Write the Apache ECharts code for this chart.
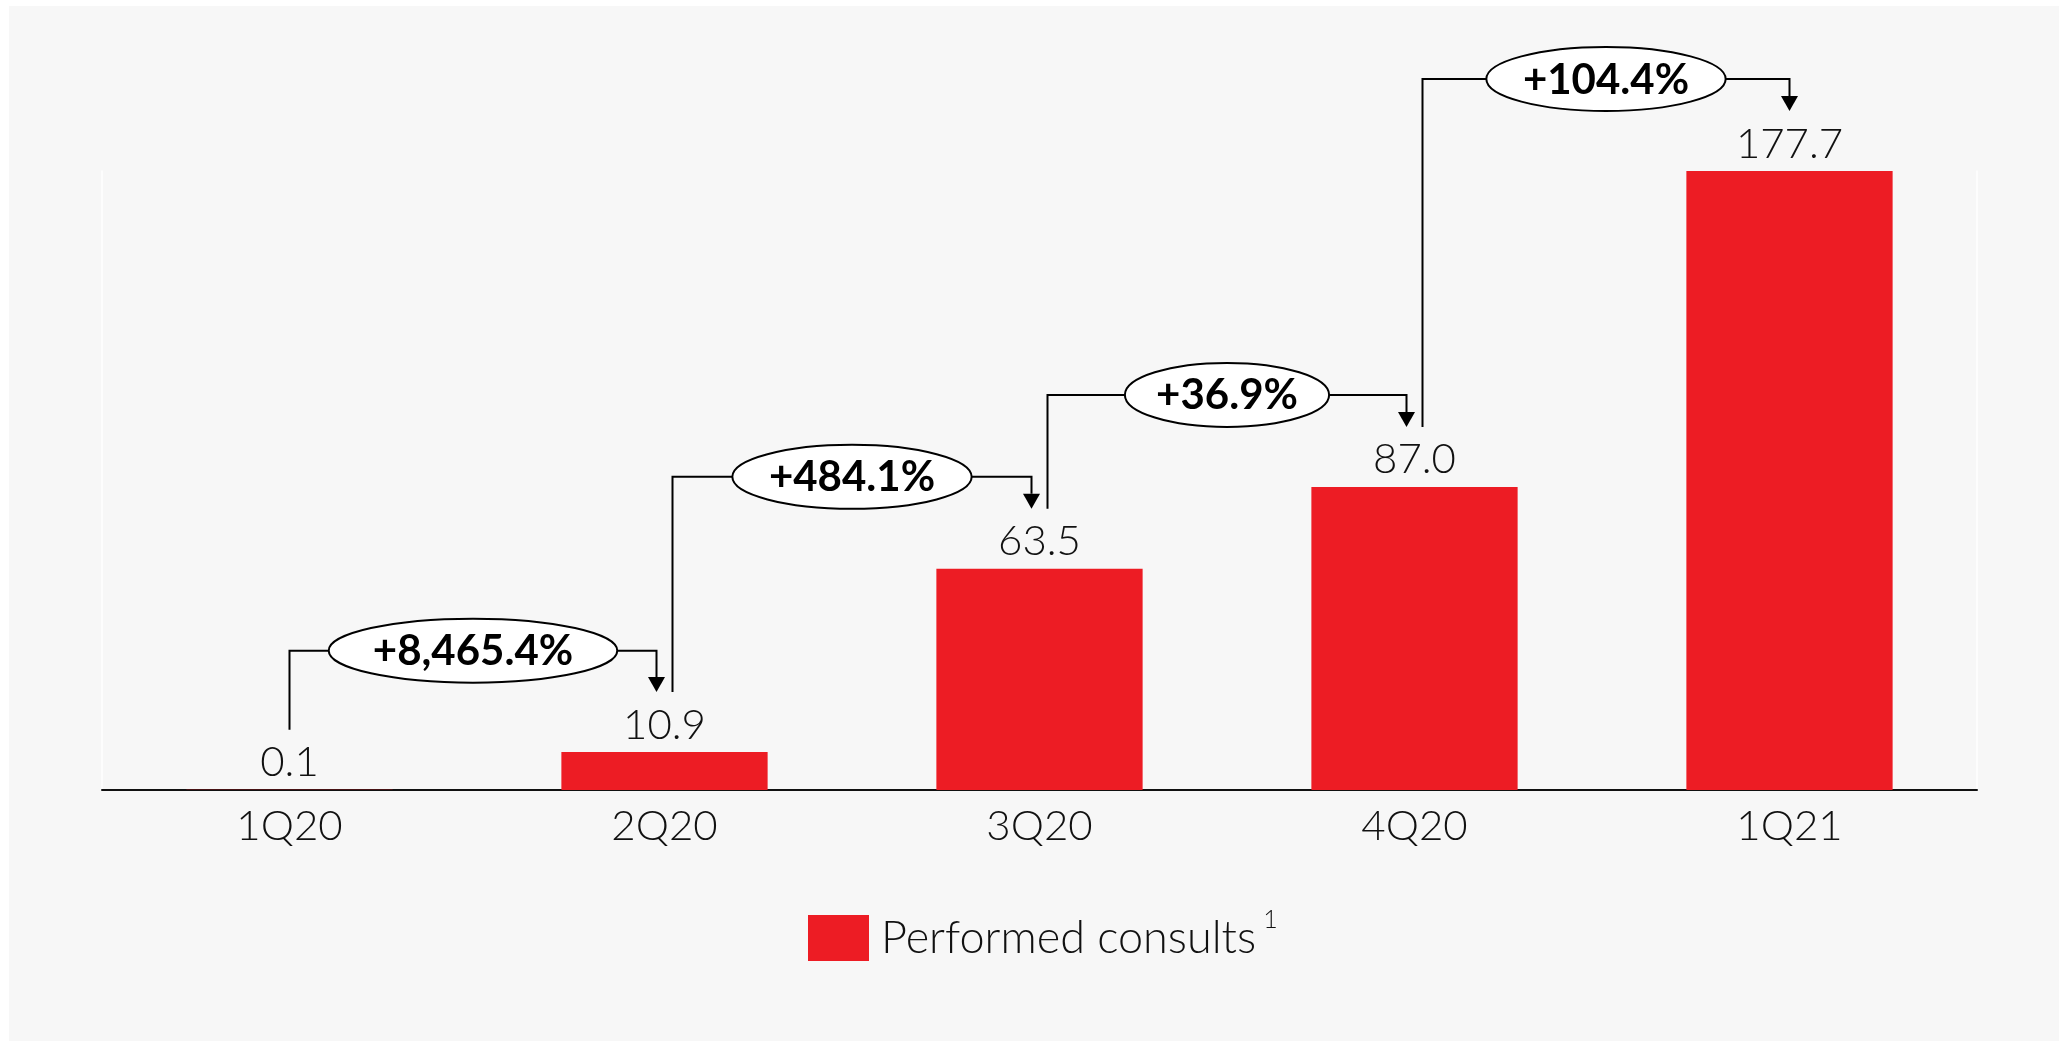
<!DOCTYPE html>
<html>
<head>
<meta charset="utf-8">
<script src="https://cdn.jsdelivr.net/npm/echarts@6/dist/echarts.min.js"></script>
<style>
  html, body { margin: 0; padding: 0; background: #ffffff; }
  #panel { position: absolute; left: 9px; top: 6px; width: 2050px; height: 1035px; background: #f7f7f7; }
  #chart { position: absolute; left: 0; top: 0; width: 2059px; height: 1041px; }
</style>
</head>
<body>
<div id="panel"></div>
<div id="chart"></div>
<script>
// ---- data ----
const categories = ['1Q20', '2Q20', '3Q20', '4Q20', '1Q21'];
const consults = [0.1, 10.9, 63.5, 87.0, 177.7];
const growthLabels = ['+8,465.4%', '+484.1%', '+36.9%', '+104.4%'];
const seriesName = 'Performed consults';
const footnoteMark = '1';

// ---- styles ----
const RED = '#ED1C24';
const LIGHT_FONT = 'Lato';
const chart = echarts.init(document.getElementById('chart'), null, { renderer: 'canvas' });

const option = {
  backgroundColor: 'transparent',
  animation: false,
  grid: { left: 102, right: 82, top: 171, bottom: 251 },
  legend: {
    data: [seriesName],
    left: 808,
    top: 907,
    padding: 0,
    icon: 'rect',
    itemWidth: 61,
    itemHeight: 46,
    selectedMode: false,
    formatter: (name) => `{t|${name}}{s|${footnoteMark}}`,
    textStyle: {
      rich: {
        t: { fontFamily: LIGHT_FONT, fontWeight: 300, fontSize: 45, color: '#111', padding: [0, 0, 0, 7], lineHeight: 62 },
        s: { fontFamily: LIGHT_FONT, fontWeight: 300, fontSize: 25, color: '#111', verticalAlign: 'top', padding: [0, 0, 0, 7] }
      }
    }
  },
  xAxis: {
    type: 'category',
    data: categories,
    axisLine: { lineStyle: { color: '#111', width: 2 } },
    axisTick: { show: false },
    axisLabel: { fontFamily: LIGHT_FONT, fontWeight: 300, fontSize: 42, color: '#111', margin: 15 }
  },
  yAxis: [
    {
      type: 'value', min: 0, max: 'dataMax', position: 'left',
      axisLine: { show: true, lineStyle: { color: '#ffffff', width: 1.5 } },
      axisTick: { show: false }, axisLabel: { show: false }, splitLine: { show: false }
    },
    {
      type: 'value', min: 0, max: 'dataMax', position: 'right',
      axisLine: { show: true, lineStyle: { color: '#ffffff', width: 1.5 } },
      axisTick: { show: false }, axisLabel: { show: false }, splitLine: { show: false }
    }
  ],
  series: [
    {
      name: seriesName,
      type: 'bar',
      data: consults,
      barCategoryGap: '45%',
      itemStyle: { color: RED },
      label: {
        show: true,
        position: 'top',
        distance: 6,
        formatter: (p) => p.value.toFixed(1),
        fontFamily: LIGHT_FONT, fontWeight: 300, fontSize: 42, color: '#111'
      }
    }
  ]
};
chart.setOption(option);

// ---- growth annotations (positioned from the bars via the axes) ----
function measure(text, font) {
  const c = document.createElement('canvas').getContext('2d');
  c.font = font;
  return c.measureText(text).width;
}
const BOLD_SIZE = 42;
const boldFont = `bold ${BOLD_SIZE}px Lato, "Liberation Sans", sans-serif`;
const elements = [];
const n = categories.length;
for (let i = 0; i < n - 1; i++) {
  const from = chart.convertToPixel({ seriesIndex: 0 }, [i, consults[i]]);
  const to = chart.convertToPixel({ seriesIndex: 0 }, [i + 1, consults[i + 1]]);
  const sx = from[0] + (i > 0 ? 8 : 0);
  const sBottom = from[1] - 60;
  const ax = to[0] - (i + 1 < n - 1 ? 8 : 0);
  const tip = to[1] - 60;
  const hy = Math.min(to[1] - 92, sBottom - 79);
  const cx = (sx + ax) / 2;
  const tw = measure(growthLabels[i], boldFont);
  const rx = tw * 0.72;
  const ry = 32;
  const line = { stroke: '#000', lineWidth: 2, fill: null };
  elements.push({ type: 'polyline', shape: { points: [[sx, sBottom], [sx, hy], [cx - rx, hy]] }, style: line, z: 10 });
  elements.push({ type: 'polyline', shape: { points: [[cx + rx, hy], [ax, hy], [ax, tip - 15]] }, style: line, z: 10 });
  elements.push({ type: 'polygon', shape: { points: [[ax - 8.5, tip - 15], [ax + 8.5, tip - 15], [ax, tip]] }, style: { fill: '#000' }, z: 10 });
  elements.push({ type: 'ellipse', shape: { cx: cx, cy: hy, rx: rx, ry: ry }, style: { fill: '#fff', stroke: '#000', lineWidth: 2 }, z: 11 });
  elements.push({
    type: 'text', x: cx, y: hy + 1, z: 12,
    style: { text: growthLabels[i], font: boldFont, fill: '#000', align: 'center', verticalAlign: 'middle' }
  });
}
chart.setOption({ graphic: { elements: elements } });
</script>
</body>
</html>
